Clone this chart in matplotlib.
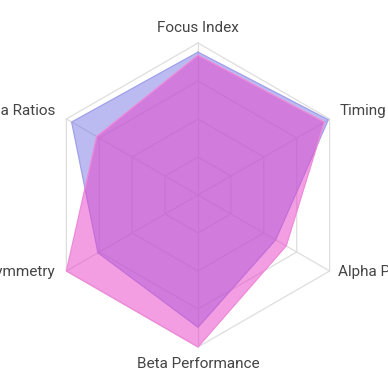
import numpy as np
import matplotlib
matplotlib.use("Agg")
import matplotlib.pyplot as plt

# axes, clockwise from the top
labels = ["Focus Index", "Timing", "Alpha Power", "Beta Performance",
          "Hemispheric Symmetry", "Theta Ratios"]
series_a = [94, 99, 59, 87, 76, 96]   # lavender
series_b = [92, 96, 67, 100, 100, 77]  # pink
ticks = [25, 50, 75, 100]

PX = 1.52  # pixels per value unit (r=100 -> 152 px)
n = len(labels)
ang = np.pi / 2 - np.arange(n) * 2 * np.pi / n


def xy(vals):
    v = np.asarray(vals, dtype=float)
    x, y = v * np.cos(ang), v * np.sin(ang)
    return np.append(x, x[0]), np.append(y, y[0])


fig = plt.figure(figsize=(3.88, 3.88), dpi=100)
ax = fig.add_axes([0, 0, 1, 1])
ax.set_xlim(-198 / PX, 190 / PX)
ax.set_ylim(-193 / PX, 195 / PX)
ax.set_aspect("equal")
ax.axis("off")

# grid
grid = "#dedede"
for t in ticks:
    gx, gy = xy([t] * n)
    ax.plot(gx, gy, color=grid, lw=0.9, zorder=1)
for a in ang:
    ax.plot([0, 100 * np.cos(a)], [0, 100 * np.sin(a)], color=grid, lw=0.9, zorder=1)

# data
ax_, ay_ = xy(series_a)
ax.fill(ax_, ay_, color=(120 / 255, 120 / 255, 230 / 255, 0.5), lw=0, zorder=2)
ax.plot(ax_, ay_, color="#a0a0ea", lw=0.9, zorder=3)
bx_, by_ = xy(series_b)
ax.fill(bx_, by_, color=(232 / 255, 62 / 255, 200 / 255, 0.5), lw=0, zorder=4)
ax.plot(bx_, by_, color="#ee8ad9", lw=0.9, zorder=5)

# point labels (baseline positions)
tkw = dict(fontsize=11, family=["Roboto", "DejaVu Sans"], color="#444444",
           va="baseline")
ax.text(0, 107.2, labels[0], ha="center", **tkw)
ax.text(93.4, 52.6, labels[1], ha="left", **tkw)
ax.text(92.1, -53.3, labels[2], ha="left", **tkw)
ax.text(0, -113.8, labels[3], ha="center", **tkw)
ax.text(-94.1, -53.3, labels[4], ha="right", **tkw)
ax.text(-94.1, 52.6, labels[5], ha="right", **tkw)

fig.savefig("out.png", dpi=100, facecolor="white")
plt.close(fig)
